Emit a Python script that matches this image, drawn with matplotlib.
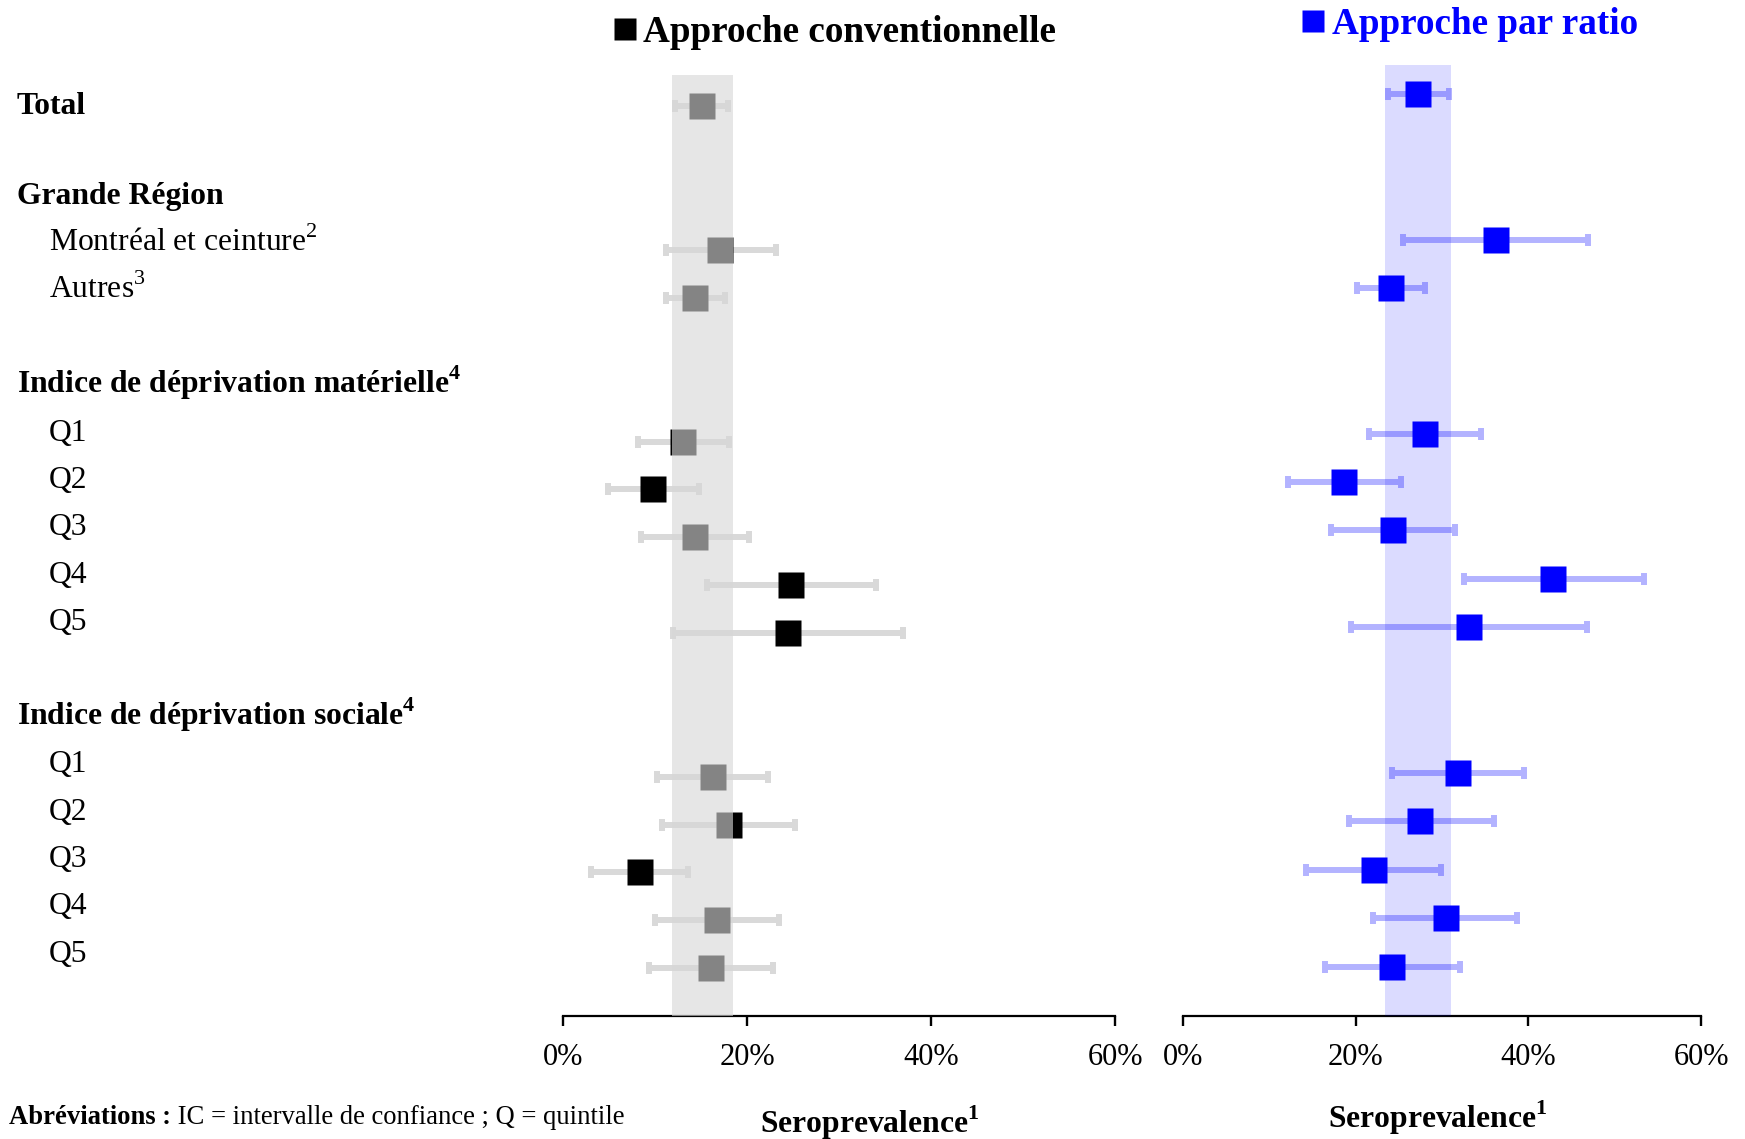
import matplotlib.pyplot as plt
from matplotlib.lines import Line2D
from matplotlib.ticker import FuncFormatter

plt.rcParams['font.family'] = ['Liberation Serif', 'DejaVu Serif']
plt.rcParams['mathtext.fontset'] = 'custom'
plt.rcParams['mathtext.rm'] = 'Liberation Serif'
plt.rcParams['mathtext.bf'] = 'Liberation Serif:bold'

# row labels on the left (slot = vertical position, in rows)
label_text = ["Total", "Grande Région", "Montréal et ceinture$^{2}$", "Autres$^{3}$",
              "Indice de déprivation matérielle$^{\\mathbf{4}}$",
              "Q1", "Q2", "Q3", "Q4", "Q5",
              "Indice de déprivation sociale$^{\\mathbf{4}}$",
              "Q1", "Q2", "Q3", "Q4", "Q5"]
label_slot = [0.11, 2, 3, 4, 6, 7, 8, 9, 10, 11, 13, 14, 15, 16, 17, 18]
label_bold = [True, True, False, False, True, False, False, False, False, False,
              True, False, False, False, False, False]

# rows holding an estimate
row_slot = [0, 3, 4, 7, 8, 9, 10, 11, 14, 15, 16, 17, 18]

# conventional approach (%)
conv_est = [15.1, 17.1, 14.3, 13.0, 9.8, 14.3, 24.8, 24.4, 16.3, 18.0, 8.4, 16.7, 16.1]
conv_low = [12.2, 11.2, 11.2, 8.2, 4.9, 8.5, 15.7, 12.0, 10.2, 10.8, 3.1, 10.0, 9.4]
conv_high = [17.9, 23.2, 17.6, 18.0, 14.8, 20.2, 34.0, 36.9, 22.3, 25.2, 13.6, 23.5, 22.8]
conv_band = (11.9, 18.45)

# ratio approach (%)
ratio_est = [27.2, 36.2, 24.1, 28.0, 18.6, 24.3, 42.9, 33.1, 31.8, 27.5, 22.1, 30.4, 24.2]
ratio_low = [23.7, 25.5, 20.2, 21.5, 12.2, 17.1, 32.5, 19.5, 24.2, 19.2, 14.2, 22.0, 16.4]
ratio_high = [30.8, 46.9, 28.0, 34.5, 25.2, 31.5, 53.4, 46.8, 39.5, 36.0, 29.9, 38.7, 32.1]
ratio_band = (23.4, 31.0)

xticks = [0, 20, 40, 60]

W, H = 1745, 1139
fig = plt.figure(figsize=(W / 100, H / 100), dpi=100)

# text column for row labels
ax_lab = fig.add_axes([0, 0, 1, 1])
ax_lab.set_xlim(0, W)
ax_lab.set_ylim(21.74, -2.298)
ax_lab.axis('off')
for txt, s, b in zip(label_text, label_slot, label_bold):
    ax_lab.text(16.7 if b else 49, s, txt, fontsize=22.8,
                fontweight='bold' if b else 'normal', va='baseline', ha='left')

ax1 = fig.add_axes([0.3226, 0.108, 0.3165, 0.8262])
ax2 = fig.add_axes([0.678, 0.108, 0.2968, 0.8349])


def style(ax, ylim):
    ax.set_xlim(0, 60)
    ax.set_ylim(*ylim)
    for s in ['left', 'right', 'top']:
        ax.spines[s].set_visible(False)
    ax.spines['bottom'].set_linewidth(1.6)
    ax.set_yticks([])
    ax.set_xticks(xticks)
    ax.xaxis.set_major_formatter(FuncFormatter(lambda v, p: f"{v:.0f}%"))
    ax.tick_params(axis='x', length=7.2, width=1.7, labelsize=22, pad=12)
    ax.patch.set_alpha(0)


style(ax1, (19.0, -0.658))
style(ax2, (19.02, -0.605))

# conventional panel: grey bars, black squares, grey band laid over them
xerr1 = [[e - l for e, l in zip(conv_est, conv_low)],
         [h - e for e, h in zip(conv_est, conv_high)]]
ax1.errorbar(conv_est, row_slot, xerr=xerr1, fmt='none', ecolor='#d9d9d9',
             elinewidth=4.3, capsize=4.3, capthick=4.3, zorder=2)
ax1.plot(conv_est, row_slot, ls='none', marker='s', ms=19.4, mfc='black',
         mec='none', zorder=3)
ax1.axvspan(*conv_band, color='#d7d7d7', alpha=0.62, lw=0, zorder=4)

# ratio panel
xerr2 = [[e - l for e, l in zip(ratio_est, ratio_low)],
         [h - e for e, h in zip(ratio_est, ratio_high)]]
ax2.errorbar(ratio_est, row_slot, xerr=xerr2, fmt='none', ecolor='#b3b3ff',
             elinewidth=4.3, capsize=4.3, capthick=4.3, zorder=2)
ax2.axvspan(*ratio_band, color='blue', alpha=0.14, lw=0, zorder=3)
ax2.plot(ratio_est, row_slot, ls='none', marker='s', ms=19.4, mfc='blue',
         mec='none', zorder=4)

# titles as legends
h1 = Line2D([], [], ls='none', marker='s', ms=16, mfc='black', mec='none')
h2 = Line2D([], [], ls='none', marker='s', ms=16, mfc='blue', mec='none')
fig.legend([h1], ['Approche conventionnelle'], loc='center',
           bbox_to_anchor=(835 / W, 1 - 32.5 / H), frameon=False,
           prop={'weight': 'bold', 'size': 26.7}, handlelength=0.6,
           handletextpad=0.2, borderpad=0, borderaxespad=0)
fig.legend([h2], ['Approche par ratio'], loc='center',
           bbox_to_anchor=(1470 / W, 1 - 24.5 / H), frameon=False,
           prop={'weight': 'bold', 'size': 26.7}, handlelength=0.6,
           handletextpad=0.2, borderpad=0, borderaxespad=0, labelcolor='blue')

# axis titles
for ax, xc, yc in [(ax1, 0.555, -0.114), (ax2, 0.492, -0.107)]:
    ax.set_xlabel("Seroprevalence$^{\\mathbf{1}}$", fontweight='bold', fontsize=22.8)
    ax.xaxis.set_label_coords(xc, yc)
    ax.xaxis.label.set_va('center')

# footnote
t1 = fig.text(9 / W, 1 - 1117 / H, "Abréviations :", fontweight='bold',
              fontsize=19.2, va='center', ha='left')
ax_lab.annotate(" IC = intervalle de confiance ; Q = quintile", xy=(1, 0.5),
                xycoords=t1, va='center', ha='left', fontsize=19.2)

fig.savefig('out.png', dpi=100)
